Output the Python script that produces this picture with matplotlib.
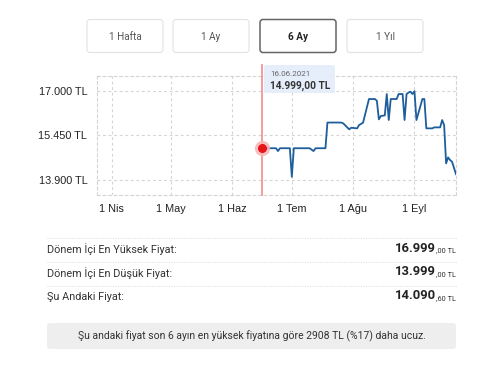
import matplotlib
matplotlib.use('Agg')
import matplotlib.pyplot as plt
from matplotlib.patches import FancyBboxPatch
import pandas as pd

# price history
dates = ['2021-06-16', '2021-06-23', '2021-06-24', '2021-06-25', '2021-06-30', '2021-07-01',
         '2021-07-02', '2021-07-10', '2021-07-12', '2021-07-13', '2021-07-18', '2021-07-19',
         '2021-07-26', '2021-07-27', '2021-07-30', '2021-07-31', '2021-08-03', '2021-08-04',
         '2021-08-06', '2021-08-09', '2021-08-12', '2021-08-13', '2021-08-14', '2021-08-15',
         '2021-08-17', '2021-08-18', '2021-08-19', '2021-08-20', '2021-08-23', '2021-08-24',
         '2021-08-26', '2021-08-27', '2021-08-28', '2021-08-29', '2021-08-30', '2021-08-31',
         '2021-09-01', '2021-09-02', '2021-09-05', '2021-09-06', '2021-09-07', '2021-09-10',
         '2021-09-11', '2021-09-14', '2021-09-15', '2021-09-16', '2021-09-17', '2021-09-18',
         '2021-09-19', '2021-09-20', '2021-09-22']
prices = [14999, 14999, 14899, 14999, 14999, 13999,
          14999, 14999, 14899, 14999, 14999, 15899,
          15899, 15870, 15660, 15717, 15695, 15811,
          15892, 16723, 16723, 16663, 16011, 16127,
          16150, 16898, 15987, 16723, 16723, 16898,
          16898, 15987, 16898, 16950, 16979, 16898,
          16999, 15987, 16723, 16723, 15695, 15695,
          15730, 15730, 15987, 15811, 14468, 14678,
          14584, 14525, 14090]

y_ticks = [13900, 15450, 17000]
y_labels = ['13.900 TL', '15.450 TL', '17.000 TL']
x_ticks = ['2021-04-01', '2021-05-01', '2021-06-01', '2021-07-01', '2021-08-01', '2021-09-01']
x_labels = ['1 Nis', '1 May', '1 Haz', '1 Tem', '1 Ağu', '1 Eyl']

buttons = ['1 Hafta', '1 Ay', '6 Ay', '1 Yıl']
selected = '6 Ay'

hover_date = '2021-06-16'
hover_label = '16.06.2021'
hover_price = '14.999,00 TL'

rows = ['Dönem İçi En Yüksek Fiyat:', 'Dönem İçi En Düşük Fiyat:', 'Şu Andaki Fiyat:']
row_main = ['16.999', '13.999', '14.090']
row_frac = [',00 TL', ',00 TL', ',60 TL']
note = 'Şu andaki fiyat son 6 ayın en yüksek fiyatına göre 2908 TL (%17) daha ucuz.'

W, H = 480, 376
fig = plt.figure(figsize=(W / 100, H / 100), dpi=100)
fig.patch.set_facecolor('white')

# chart area (pixels: left 97, right 456, top 76, bottom 195)
ax = fig.add_axes([97 / W, 1 - 195 / H, (456 - 97) / W, (195 - 76) / H])
d = pd.to_datetime(dates)
line_color = '#1d5e9c'
grid_color = '#d4d4d4'
ax.plot(d, prices, color=line_color, lw=1.3, zorder=3)
ax.set_xlim(pd.Timestamp('2021-03-24 12:00'), d[-1])
ax.set_ylim(13360, 17530)
ax.set_yticks(y_ticks)
ax.set_yticklabels(y_labels)
ax.set_xticks(pd.to_datetime(x_ticks))
ax.set_xticklabels(x_labels)
ax.tick_params(length=0, labelsize=7.8, colors='#222222', labelfontfamily='Liberation Sans')
ax.tick_params(axis='y', pad=7)
ax.tick_params(axis='x', pad=6.5)
ax.grid(True, color=grid_color, lw=0.8, linestyle=(0, (2.5, 2.5)))
for s in ax.spines.values():
    s.set_color(grid_color)
    s.set_linewidth(0.8)
    s.set_linestyle((0, (2.5, 2.5)))

# hover marker
hd = pd.Timestamp(hover_date)
hp = prices[dates.index(hover_date)]
ax.axvline(hd, ymin=0, ymax=1.092, color='#f28b8b', lw=1.2, clip_on=False, zorder=4)
ax.plot([hd], [hp], 'o', ms=10, color='#f7b5b5', alpha=0.8, zorder=5, clip_on=False)
ax.plot([hd], [hp], 'o', ms=5.5, color='#e8141a', zorder=6, clip_on=False)

# overlay for page elements, in pixel units
ov = fig.add_axes([0, 0, 1, 1])
ov.set_xlim(0, W)
ov.set_ylim(H, 0)
ov.axis('off')

# period buttons
bx = [87, 173, 260, 347]
for x0, name in zip(bx, buttons):
    sel = name == selected
    ov.add_patch(FancyBboxPatch((x0, 19.5), 76, 33, boxstyle='round,pad=0,rounding_size=3',
                                fc='white', ec='#666666' if sel else '#e2e2e2',
                                lw=1.1 if sel else 0.8))
    ov.text(x0 + 38, 36.5, name, ha='center', va='center', fontsize=7.2,
            family='Roboto', color='#222222' if sel else '#555555',
            fontweight='bold' if sel else 'normal')

# tooltip
ov.add_patch(FancyBboxPatch((264, 65), 71, 28, boxstyle='round,pad=0,rounding_size=2',
                            fc='#e4eefa', ec='none', alpha=0.95, zorder=5))
ov.text(270, 73.5, hover_label, ha='left', va='center', fontsize=5.8,
        family='Roboto', color='#666666', zorder=6)
ov.text(270, 85.5, hover_price, ha='left', va='center', fontsize=7.3,
        family='Roboto', fontweight='bold', color='#333333', zorder=6)

# summary rows
for yy in [237.5, 261.5, 285.5]:
    ov.plot([47, 457], [yy, yy], color='#dddddd', lw=0.7, linestyle=(0, (1, 1.5)))
row_y = [249.5, 273, 297]
for yy, lab, main, frac in zip(row_y, rows, row_main, row_frac):
    ov.text(47, yy, lab, ha='left', va='center', fontsize=7.8, family='Roboto', color='#333333')
    t = ov.text(456, yy + 3, frac, ha='right', va='baseline', fontsize=5.3,
                family='Roboto', color='#333333')
    ov.annotate(main, xy=(0, 0), xycoords=t, ha='right', va='bottom',
                fontsize=9.4, family='Roboto', fontweight='bold', color='#222222')

# note box
ov.add_patch(FancyBboxPatch((47, 323), 409, 26, boxstyle='round,pad=0,rounding_size=3',
                            fc='#eeeeee', ec='none'))
ov.text(251.5, 336, note, ha='center', va='center', fontsize=7.5, family='Roboto', color='#333333')

fig.savefig('out.png', dpi=100)
